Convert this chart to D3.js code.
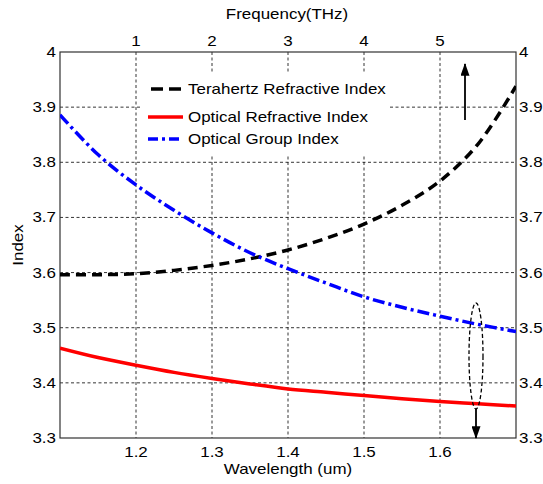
<!DOCTYPE html>
<html><head><meta charset="utf-8">
<script src="https://cdn.jsdelivr.net/npm/d3@7"></script>
<style>body{margin:0;background:#fff}svg{display:block}text{font-family:Arial,"Liberation Sans",sans-serif;fill:#000}</style>
</head><body><svg id="c" width="543" height="484"></svg>
<script>
const wavelength = [1.1,1.15,1.2,1.25,1.3,1.35,1.4,1.45,1.5,1.55,1.6,1.65,1.7];
const terahertzIndex = [3.596,3.596,3.598,3.604,3.613,3.625,3.641,3.662,3.688,3.722,3.766,3.833,3.938];
const opticalIndex = [3.463,3.446,3.432,3.419,3.408,3.398,3.389,3.383,3.377,3.371,3.366,3.362,3.358];
const groupIndex = [3.886,3.814,3.759,3.713,3.672,3.636,3.607,3.581,3.556,3.537,3.521,3.506,3.493];
const xTicks = [1.2,1.3,1.4,1.5,1.6];
const yTicks = [3.3,3.4,3.5,3.6,3.7,3.8,3.9,4];
const freqTicks = [1,2,3,4,5];
const legendLabels = ["Terahertz Refractive Index","Optical Refractive Index","Optical Group Index"];

const svg = d3.select("#c");
const L=60,R=516,T=52,B=438;
const x = d3.scaleLinear().domain([1.1,1.7]).range([L,R]);
const xf = d3.scaleLinear().domain([0,6]).range([L,R]);
const y = d3.scaleLinear().domain([3.3,4]).range([B,T]);
const fmt = d => d===4?"4":d3.format(".1f")(d);
const SX = 1.13;
function label(px,py,txt,anchor,size,rot){
  const t = svg.append("text").attr("transform",`translate(${px},${py})${rot?" rotate(-90)":""} scale(${SX},1)`)
    .attr("text-anchor",anchor||"start").style("font-size",(size||15)+"px").text(txt);
  return t;
}

// grid
const g = svg.append("g");
g.selectAll(".gx").data(xTicks).join("line").attr("x1",d=>x(d)).attr("x2",d=>x(d)).attr("y1",T).attr("y2",B)
 .attr("stroke","#000").attr("stroke-width",0.8).attr("stroke-dasharray","3,2.5");
g.selectAll(".gy").data(yTicks.filter(d=>d>3.3&&d<4)).join("line").attr("y1",d=>y(d)).attr("y2",d=>y(d)).attr("x1",L).attr("x2",R)
 .attr("stroke","#000").attr("stroke-width",0.8).attr("stroke-dasharray","3,2.5");

// tick labels (through scales)
xTicks.forEach(d=>label(x(d),457,d3.format(".1f")(d),"middle"));
freqTicks.forEach(d=>label(xf(d),46,d3.format("d")(d),"middle"));
yTicks.forEach(d=>{label(L-4,y(d)+5,fmt(d),"end"); label(R+3,y(d)+5,fmt(d),"start");});

// box
svg.append("rect").attr("x",L).attr("y",T).attr("width",R-L).attr("height",B-T).attr("fill","none").attr("stroke","#333").attr("stroke-width",1.2);

// legend background
svg.append("rect").attr("x",141).attr("y",73).attr("width",249).attr("height",82).attr("fill","#fff");

// curves
svg.append("clipPath").attr("id","cp").append("rect").attr("x",L).attr("y",T).attr("width",R-L).attr("height",B-T);
const line = arr => d3.line().x((d,i)=>x(wavelength[i])).y(d=>y(d)).curve(d3.curveCatmullRom)(arr);
const series = [
 {v:terahertzIndex,c:"#000",dash:"10,6"},
 {v:opticalIndex,c:"#ff0000",dash:null},
 {v:groupIndex,c:"#0000ff",dash:"12,4,3,4"}];
series.forEach(s=>{
 svg.append("path").attr("d",line(s.v)).attr("fill","none").attr("stroke",s.c).attr("stroke-width",3.5)
  .attr("stroke-dasharray",s.dash).attr("clip-path","url(#cp)");
});

// legend
const ly=[89,117,139];
series.forEach((s,i)=>{
 svg.append("line").attr("x1",148).attr("x2",183).attr("y1",ly[i]).attr("y2",ly[i]).attr("stroke",s.c).attr("stroke-width",3.5)
  .attr("stroke-dasharray", i===0?"12,6":(i===2?"10,4,3,4":null)).attr("stroke-dashoffset", i===0?-3:0);
 label(188,ly[i]+5,legendLabels[i],"start",15);
});

// annotations
const defs = svg.append("defs");
defs.append("marker").attr("id","ah").attr("viewBox","0 0 14 10").attr("refX",13).attr("refY",5)
 .attr("markerWidth",14).attr("markerHeight",9).attr("markerUnits","userSpaceOnUse").attr("orient","auto")
 .append("path").attr("d","M0,0L14,5L0,10Z").attr("fill","#000");
svg.append("line").attr("x1",465).attr("y1",120).attr("x2",465).attr("y2",64).attr("stroke","#000").attr("stroke-width",1.8).attr("marker-end","url(#ah)");
svg.append("ellipse").attr("cx",476).attr("cy",356).attr("rx",7).attr("ry",53).attr("fill","none").attr("stroke","#000").attr("stroke-width",1.3).attr("stroke-dasharray","4,2.5");
svg.append("line").attr("x1",476).attr("y1",409).attr("x2",476).attr("y2",438).attr("stroke","#000").attr("stroke-width",1.8).attr("marker-end","url(#ah)");

// titles
label(287,19,"Frequency(THz)","middle",15);
label(288,474,"Wavelength (um)","middle",15);
label(23,245,"Index","middle",15,true);
</script></body></html>
